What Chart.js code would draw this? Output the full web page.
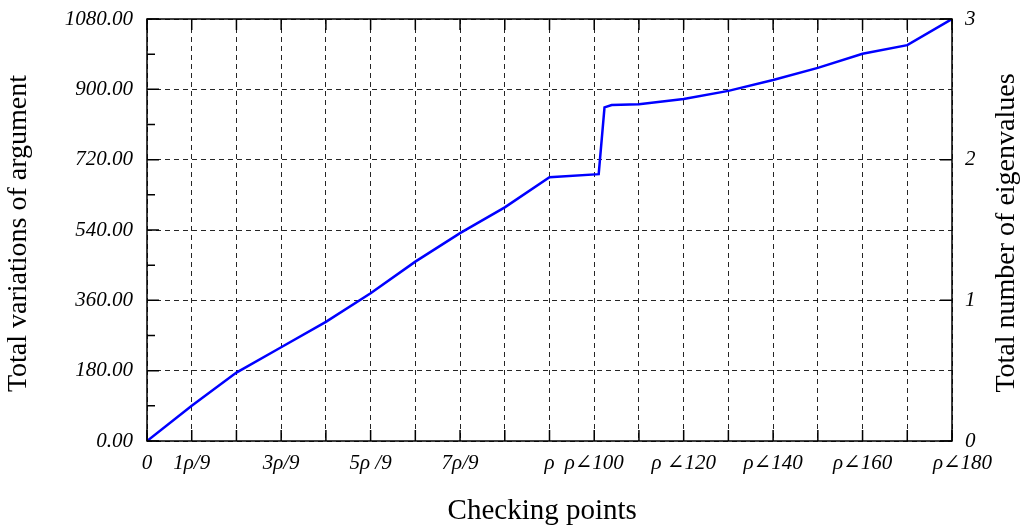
<!DOCTYPE html>
<html>
<head>
<meta charset="utf-8">
<script src="https://cdn.jsdelivr.net/npm/chart.js@4.4.0/dist/chart.umd.min.js"></script>
<style>
  html, body { margin: 0; padding: 0; background: #fff; }
  #wrap { width: 1032px; height: 532px; }
</style>
</head>
<body>
<div id="wrap"><canvas id="eqChart"></canvas></div>
<script>
// checking point positions (grid units) and accumulated argument variation (deg)
const checkPos = [0, 1, 2, 3, 4, 5, 6, 7, 8, 9, 10.1, 10.23, 10.39, 11, 12, 13, 14, 15, 16, 17, 18];
const argVariation = [0, 90, 175, 240, 305, 378, 459, 532, 598, 675, 683, 854, 860, 862, 875, 896, 924, 955, 991, 1013, 1080];

// x tick labels
const tickValues = [0, 1, 3, 5, 7, 9, 10, 12, 14, 16, 18];
const tickNames = ["0", "1ρ/9", "3ρ/9", "5ρ /9", "7ρ/9", "ρ", "ρ∠100", "ρ ∠120", "ρ∠140", "ρ∠160", "    ρ∠180"];

const serif = "'Liberation Serif', 'DejaVu Serif', serif";
const tickFont = { family: serif, size: 21, style: "italic" };
const titleFont = { family: serif, size: 29 };
const gridDash = [5, 4];

// frame, inward tick marks and the right-hand title (read bottom to top)
const framePlugin = {
  id: "frame",
  afterDraw(chart) {
    const { ctx, chartArea: a, scales } = chart;
    ctx.save();
    ctx.strokeStyle = "#000";
    ctx.lineWidth = 1.5;
    ctx.strokeRect(a.left, a.top, a.right - a.left, a.bottom - a.top);
    ctx.beginPath();
    for (let v = 0; v <= 18; v++) {
      const x = scales.x.getPixelForValue(v);
      ctx.moveTo(x, a.bottom); ctx.lineTo(x, a.bottom - 11);
      ctx.moveTo(x, a.top); ctx.lineTo(x, a.top + 11);
    }
    for (let v = 0; v <= 1080; v += 90) {
      const y = scales.y.getPixelForValue(v);
      const len = v % 180 === 0 ? 12 : 8;
      ctx.moveTo(a.left, y); ctx.lineTo(a.left + len, y);
    }
    for (let v = 0; v <= 3; v++) {
      const y = scales.y2.getPixelForValue(v);
      ctx.moveTo(a.right, y); ctx.lineTo(a.right - 12, y);
    }
    ctx.stroke();

    ctx.translate(1007, (a.top + a.bottom) / 2 + 3);
    ctx.rotate(-Math.PI / 2);
    ctx.fillStyle = "#000";
    ctx.font = "28px " + serif;
    ctx.textAlign = "center";
    ctx.textBaseline = "middle";
    ctx.fillText("Total number of eigenvalues", 0, 0);
    ctx.restore();
  },
};

// keep the plot box where the reference has it
function noEdgePad(s) {
  s.paddingTop = 0;
  s.paddingBottom = 0;
  s.paddingLeft = 0;
  s.paddingRight = 0;
}

const ctx = document.getElementById("eqChart").getContext("2d");

const eqChart = new Chart(ctx, {
  type: "line",
  data: {
    datasets: [
      {
        label: "Total variations of argument",
        data: checkPos.map((x, i) => ({ x: x, y: argVariation[i] })),
        borderColor: "#0000ff",
        borderWidth: 2.5,
        pointRadius: 0,
        tension: 0,
        fill: false,
        yAxisID: "y",
      },
    ],
  },
  options: {
    responsive: true,
    maintainAspectRatio: false,
    animation: false,
    layout: { padding: { top: 19, left: 0, right: 0, bottom: 0 } },
    scales: {
      x: {
        type: "linear",
        min: 0,
        max: 18,
        afterFit: (s) => { s.height = 91; noEdgePad(s); },
        ticks: {
          stepSize: 1,
          autoSkip: false,
          maxRotation: 0,
          padding: 10,
          color: "#000",
          font: tickFont,
          callback: (v) => {
            const i = tickValues.indexOf(v);
            return i >= 0 ? tickNames[i] : "";
          },
        },
        grid: { color: "rgba(0,0,0,0.85)", lineWidth: 1, drawTicks: false },
        border: { display: false, dash: gridDash },
        title: {
          display: true,
          text: "Checking points  ",
          color: "#000",
          font: titleFont,
          padding: { top: 0, bottom: 3 },
        },
      },
      y: {
        position: "left",
        min: 0,
        max: 1080,
        afterFit: (s) => { s.width = 147; noEdgePad(s); },
        ticks: {
          stepSize: 180,
          padding: 14,
          color: "#000",
          font: tickFont,
          callback: (v) => v.toFixed(2),
        },
        grid: { color: "rgba(0,0,0,0.85)", lineWidth: 1, drawTicks: false },
        border: { display: false, dash: gridDash },
        title: {
          display: true,
          text: "Total variations of argument ",
          color: "#000",
          font: { family: serif, size: 28 },
          padding: { top: 2, bottom: 0 },
        },
      },
      y2: {
        position: "right",
        min: 0,
        max: 3,
        afterFit: (s) => { s.width = 80; noEdgePad(s); },
        ticks: {
          stepSize: 1,
          padding: 13,
          color: "#000",
          font: tickFont,
        },
        grid: { display: false, drawTicks: false },
        border: { display: false },
        title: { display: false },
      },
    },
    plugins: {
      legend: { display: false },
      title: { display: false },
      tooltip: { enabled: false },
    },
  },
  plugins: [framePlugin],
});
</script>
</body>
</html>
